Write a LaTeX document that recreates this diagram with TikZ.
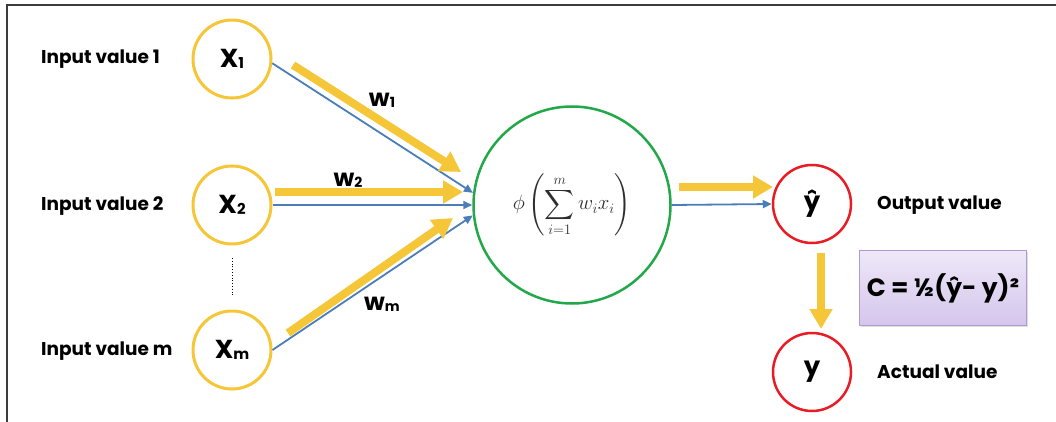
\documentclass[tikz,border=0pt]{standalone}
\usepackage{amsmath}
\usepackage{exscale}
\usepackage{fontspec}
\setmainfont{Poppins}
\usetikzlibrary{arrows.meta,shadows}
\definecolor{yel}{RGB}{244,198,56}
\definecolor{blu}{RGB}{74,126,187}
\definecolor{grn}{RGB}{34,168,72}
\definecolor{rd}{RGB}{232,28,36}
\definecolor{boxtop}{RGB}{238,232,248}
\definecolor{boxbot}{RGB}{212,198,236}
\definecolor{boxline}{RGB}{172,154,212}
\definecolor{frame}{RGB}{60,60,60}
\newcommand{\sz}[1]{\fontsize{#1}{#1}\selectfont}
\begin{document}
\begin{tikzpicture}[x=1pt,y=-1pt,
  innode/.style={circle,draw=yel,line width=3pt,minimum size=78pt,inner sep=0pt,font=\bfseries\sz{26}},
  sumnode/.style={circle,draw=grn,line width=2.5pt,minimum size=197pt,inner sep=0pt},
  outnode/.style={circle,draw=rd,line width=2.5pt,minimum size=78pt,inner sep=0pt,font=\bfseries\sz{26}},
  lbl/.style={anchor=west,inner sep=0pt,font=\bfseries\sz{18.5}},
  wlbl/.style={inner sep=0pt,font=\bfseries\sz{24}},
  blueline/.style={draw=blu,line width=1.8pt,-{Triangle[length=9pt,width=8pt]}},
  yelarrow/.style={draw=yel,line width=8pt,-{Triangle[length=20pt,width=22pt]}},
  costbox/.style={draw=boxline,line width=1pt,top color=boxtop,bottom color=boxbot,minimum width=167pt,minimum height=75pt,inner sep=0pt,font=\bfseries\sz{25},drop shadow={shadow xshift=1.5pt,shadow yshift=-1.5pt,opacity=0.25}}
]
\useasboundingbox (0,0) rectangle (1056,422);
\draw[frame,line width=2pt] (7,423) -- (7,5) -- (1057,5);

% input nodes
\node[innode] (x1) at (232,59) {X\raisebox{-1pt}{\sz{15}1}};
\node[innode] (x2) at (232,205) {X\raisebox{-1pt}{\sz{15}2}};
\node[innode] (xm) at (232,350) {X\raisebox{-1pt}{\sz{15}m}};
\draw[black,line width=0.8pt,dotted] (232,258) -- (232,297);

\node[lbl] (l1) at (41,59) {Input value 1};
\node[lbl] (l2) at (41,206) {Input value 2};
\node[lbl] (lm) at (41,351) {Input value m};

% summation node
\node[sumnode] (sum) at (572,205) {\color[RGB]{45,45,45}\sz{20}$\displaystyle \phi\left(\sum_{i=1}^{m} w_i x_i\right)$};

% output nodes
\node[outnode] (yhat) at (812,204) {ŷ};
\node[outnode] (y) at (812,372) {y};
\node[lbl] (lout) at (877,205) {Output value};
\node[lbl] (lact) at (877,372) {Actual value};

\node[costbox] (cost) at (943,288) {C = ½(ŷ- y)²};

% blue connectors
\draw[blueline] (x1.-6) -- (sum.173);
\draw[blueline] (x2.east) -- (sum.west);
\draw[blueline] (xm.east) -- (sum.186);
\draw[blueline] (sum.east) -- (yhat.west);

% yellow weight arrows
\coordinate (a1s) at (293,65);  \coordinate (a1e) at (461,172);
\coordinate (a2s) at (275,192); \coordinate (a2e) at (463,192);
\coordinate (ams) at (288,333); \coordinate (ame) at (453,218);
\coordinate (aos) at (679,187); \coordinate (aoe) at (773,187);
\coordinate (ads) at (821,253); \coordinate (ade) at (821,329);
\draw[yelarrow] (a1s) -- (a1e);
\draw[yelarrow] (a2s) -- (a2e);
\draw[yelarrow] (ams) -- (ame);
\draw[yelarrow] (aos) -- (aoe);
\draw[yelarrow] (ads) -- (ade);

\node[wlbl] (w1) at (382,100) {w\raisebox{-1pt}{\sz{14}1}};
\node[wlbl] (w2) at (348,180) {w\raisebox{-1pt}{\sz{14}2}};
\node[wlbl] (wm) at (382,304) {w\raisebox{-1pt}{\sz{14}m}};
\end{tikzpicture}
\end{document}
